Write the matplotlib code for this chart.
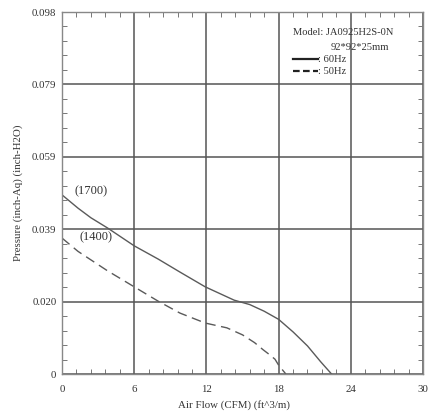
import matplotlib
matplotlib.use("Agg")
import matplotlib.pyplot as plt
from matplotlib.ticker import FixedLocator, MultipleLocator

plt.rcParams['font.family'] = ['Liberation Serif', 'DejaVu Serif']

# Data
flow_60 = [0, 1.33, 2.4, 3.8, 6, 8.0, 9.8, 11.9, 14.3, 15.6, 16.8, 18.0, 19.2, 20.4, 21.5, 22.4]
pres_60 = [0.0485, 0.0449, 0.0423, 0.0395, 0.0347, 0.0311, 0.0276, 0.0236, 0.0200, 0.0188, 0.0170, 0.0148,
           0.0114, 0.0076, 0.0033, 0.0]
flow_50 = [0, 1.33, 2.4, 3.8, 6, 8.0, 9.8, 11.9, 13.7, 15.0, 16.0, 16.7, 17.3, 17.7, 18.0, 18.6]
pres_50 = [0.0368, 0.0332, 0.0309, 0.0279, 0.0236, 0.0197, 0.0165, 0.0138, 0.0125, 0.0106, 0.0085, 0.0066,
           0.0051, 0.0040, 0.0024, 0.0]

x_ticks = [0, 6, 12, 18, 24, 30]
y_ticks = [0, 0.0196, 0.0392, 0.0588, 0.0784, 0.098]
y_labels = ['0', '0.020', '0.039', '0.059', '0.079', '0.098']

fig = plt.figure(figsize=(4.37, 4.13), dpi=100)
ax = fig.add_axes([0.1419, 0.0944, 0.8261, 0.8765])

grid_c = '#555555'
curve_c = '#5a5a5a'
text_c = '#333333'

ax.plot(flow_60, pres_60, color=curve_c, lw=1.0, solid_joinstyle='round')
ax.plot(flow_50, pres_50, color=curve_c, lw=1.0, ls=(0, (7, 4)))

ax.set_xlim(0, 30)
ax.set_ylim(0, 0.098)
ax.xaxis.set_major_locator(FixedLocator(x_ticks))
ax.yaxis.set_major_locator(FixedLocator(y_ticks))
ax.set_xticklabels([str(v) for v in x_ticks])
ax.set_yticklabels(y_labels)
ax.xaxis.set_minor_locator(MultipleLocator(1.2))
ax.yaxis.set_minor_locator(MultipleLocator(0.098 / 25))

ax.grid(True, which='major', color=grid_c, lw=1.1)
ax.tick_params(axis='x', which='major', length=0, labelsize=7.8, colors=text_c, pad=8)
ax.tick_params(axis='y', which='major', length=0, labelsize=7.8, colors=text_c, pad=4)
ax.tick_params(which='minor', direction='in', length=3.5, width=0.7, color='#777777',
               top=True, right=True, bottom=True, left=True)
for s in ax.spines.values():
    s.set_color('#888888')
    s.set_linewidth(1.0)

ax.set_xlabel('Air Flow (CFM) (ft^3/m)', fontsize=7.8, color=text_c)
ax.xaxis.set_label_coords(0.475, -0.072)
ax.set_ylabel('Pressure (inch-Aq) (inch-H2O)', fontsize=7.8, color=text_c)
ax.yaxis.set_label_coords(-0.108, 0.5)

ax.text(1.0, 0.0494, '(1700)', fontsize=9, color=text_c, ha='left', va='center')
ax.text(1.45, 0.0370, '(1400)', fontsize=9, color=text_c, ha='left', va='center')

ax.text(19.2, 0.0925, 'Model: JA0925H2S-0N', fontsize=7.6, color=text_c, va='center')
ax.text(22.3, 0.0885, '92*92*25mm', fontsize=7.6, color=text_c, va='center')
ax.plot([19.2, 21.3], [0.0852, 0.0852], color='#222222', lw=1.6)
ax.plot([19.2, 21.3], [0.0819, 0.0819], color='#222222', lw=1.6, ls=(0, (3, 1.5)))
ax.text(21.3, 0.0852, ': 60Hz', fontsize=7.6, color=text_c, va='center')
ax.text(21.3, 0.0819, ': 50Hz', fontsize=7.6, color=text_c, va='center')

fig.savefig('out.png', dpi=100)
